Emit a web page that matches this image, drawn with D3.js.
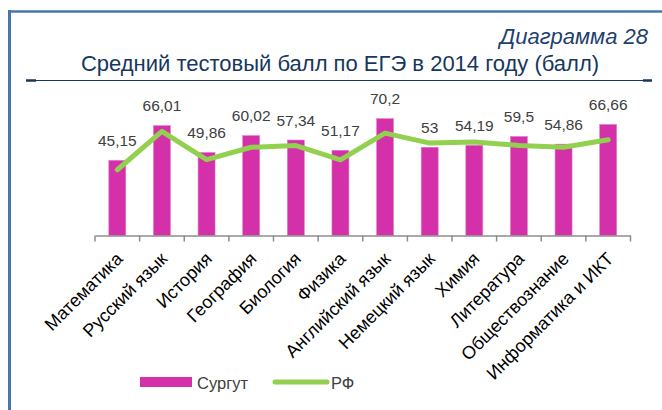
<!DOCTYPE html>
<html>
<head>
<meta charset="utf-8">
<script src="https://cdn.jsdelivr.net/npm/d3@7"></script>
<style>
  body { margin: 0; background: #fff; }
  svg { display: block; }
  text { font-family: "Liberation Sans", Arial, sans-serif; }
</style>
</head>
<body>
<div id="chart"></div>
<script>
// данные диаграммы
const subjects = ["Математика", "Русский язык", "История", "География", "Биология", "Физика",
  "Английский язык", "Немецкий язык", "Химия", "Литература", "Обществознание", "Информатика и ИКТ"];
const surgut = [45.15, 66.01, 49.86, 60.02, 57.34, 51.17, 70.2, 53, 54.19, 59.5, 54.86, 66.66];
const rf = [39.5, 62.6, 45.6, 53.0, 54.0, 45.4, 61.5, 55.5, 56.1, 54.1, 53.0, 57.5];
const seriesNames = ["Сургут", "РФ"];

let width = 662,
    height = 410;

const pink = "#D330A9",
      green = "#92D050";

const svg = d3.select("#chart").append("svg")
    .attr("width", width)
    .attr("height", height);

// рамка
svg.append("line").attr("x1", 8).attr("x2", width).attr("y1", 11.5).attr("y2", 11.5)
    .attr("stroke", "#4A74AA").attr("stroke-width", 2.5);
svg.append("line").attr("x1", 9.5).attr("x2", 9.5).attr("y1", 10).attr("y2", height)
    .attr("stroke", "#4A74AA").attr("stroke-width", 3);

// подписи
svg.append("text")
    .attr("x", 648).attr("y", 44)
    .attr("text-anchor", "end")
    .attr("font-style", "italic")
    .attr("font-size", 22)
    .attr("fill", "#1F3F6E")
    .text("Диаграмма 28");

svg.append("text")
    .attr("x", 340).attr("y", 71)
    .attr("text-anchor", "middle")
    .attr("font-size", 22)
    .attr("fill", "#17375E")
    .text("Средний тестовый балл по ЕГЭ в 2014 году (балл)");

svg.append("line").attr("x1", 26).attr("x2", 652).attr("y1", 80.5).attr("y2", 80.5)
    .attr("stroke", "#17375E").attr("stroke-width", 1.2);
svg.append("line").attr("x1", 26).attr("x2", 36).attr("y1", 80.5).attr("y2", 80.5)
    .attr("stroke", "#17375E").attr("stroke-width", 2.5);
svg.append("line").attr("x1", 643).attr("x2", 652).attr("y1", 80.5).attr("y2", 80.5)
    .attr("stroke", "#17375E").attr("stroke-width", 2.5);

// шкалы
let x = d3.scaleBand().domain(subjects).range([95, 630.5]).paddingInner(0).paddingOuter(0);
let y = d3.scaleLinear().domain([0, 100]).range([235.5, 69]);

let barW = 17;

let plot = svg.append("g").attr("id", "plot");

plot.selectAll("rect.bar")
    .data(subjects)
    .join("rect")
    .attr("class", "bar")
    .attr("x", d => x(d) + x.bandwidth() / 2 - barW / 2)
    .attr("width", barW)
    .attr("y", (d, i) => y(surgut[i]))
    .attr("height", (d, i) => y(0) - y(surgut[i]))
    .attr("fill", pink)
    .attr("stroke", "#E37FCB")
    .attr("stroke-width", 0.6);

// ось X
let xAxis = d3.axisBottom(x).tickSize(0).tickFormat("");
let axisG = svg.append("g").attr("transform", "translate(0,235.5)").call(xAxis);
axisG.select(".domain").attr("stroke", "#8C8C8C").attr("stroke-width", 1.5);
axisG.selectAll(".tick").remove();

let edges = subjects.map(d => x(d)).concat([x.range()[1]]);
axisG.selectAll("line.edge")
    .data(edges)
    .join("line")
    .attr("class", "edge")
    .attr("x1", d => d).attr("x2", d => d)
    .attr("y1", 0).attr("y2", 6)
    .attr("stroke", "#8C8C8C").attr("stroke-width", 1.5);

axisG.selectAll("text.cat")
    .data(subjects)
    .join("text")
    .attr("class", "cat")
    .attr("transform", d => `translate(${x(d) + x.bandwidth() / 2 + 2},${20}) rotate(-45)`)
    .attr("text-anchor", "end")
    .attr("dy", "0.35em")
    .attr("font-size", 18)
    .attr("fill", "#000")
    .text(d => d);

// линия РФ
let line = d3.line()
    .x((d, i) => x(subjects[i]) + x.bandwidth() / 2)
    .y(d => y(d));

plot.append("path")
    .datum(rf)
    .attr("d", line)
    .attr("fill", "none")
    .attr("stroke", green)
    .attr("stroke-width", 5)
    .attr("stroke-linejoin", "round")
    .attr("stroke-linecap", "round");

// значения
plot.selectAll("text.val")
    .data(surgut)
    .join("text")
    .attr("class", "val")
    .attr("x", (d, i) => x(subjects[i]) + x.bandwidth() / 2)
    .attr("y", d => y(d) - 14.5)
    .attr("text-anchor", "middle")
    .attr("font-size", 15.5)
    .attr("fill", "#404040")
    .text(d => String(d).replace(".", ","));

// легенда
let legend = svg.append("g");
legend.append("rect").attr("x", 140).attr("y", 377).attr("width", 52).attr("height", 10).attr("fill", pink);
legend.append("text").attr("x", 197).attr("y", 388.5)
    .attr("font-size", 16.5).attr("fill", "#404040")
    .text(seriesNames[0]);
legend.append("line").attr("x1", 275).attr("x2", 327).attr("y1", 382).attr("y2", 382)
    .attr("stroke", green).attr("stroke-width", 5).attr("stroke-linecap", "round");
legend.append("text").attr("x", 331).attr("y", 388.5)
    .attr("font-size", 16.5).attr("fill", "#404040")
    .text(seriesNames[1]);
</script>
</body>
</html>
